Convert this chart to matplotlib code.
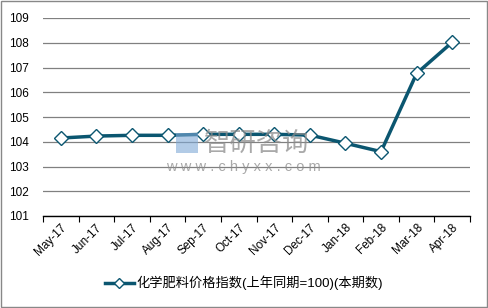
import matplotlib.pyplot as plt
from matplotlib.patches import Rectangle

plt.rcParams['font.family'] = ['Liberation Sans', 'Noto Sans CJK SC', 'DejaVu Sans']

months = ['May-17', 'Jun-17', 'Jul-17', 'Aug-17', 'Sep-17', 'Oct-17',
          'Nov-17', 'Dec-17', 'Jan-18', 'Feb-18', 'Mar-18', 'Apr-18']
index_values = [104.15, 104.23, 104.26, 104.26, 104.3, 104.3,
                104.3, 104.27, 103.94, 103.6, 106.76, 108.02]
series_name = '化学肥料价格指数(上年同期=100)(本期数)'
y_ticks = [101, 102, 103, 104, 105, 106, 107, 108, 109]

fig = plt.figure(figsize=(4.88, 3.08), dpi=100)
ax = fig.add_axes([43 / 488, 1 - 216 / 308, 427 / 488, 198 / 308])

x = list(range(len(months)))
ax.plot(x, index_values, color='#0b5670', linewidth=2.5, marker='D',
        markersize=7, markerfacecolor='white', markeredgecolor='#0b5670',
        markeredgewidth=1, label=series_name, zorder=3)

ax.set_xlim(-0.5, len(months) - 0.5)
ax.set_ylim(101, 109)
ax.set_yticks(y_ticks)
ax.set_xticks([i - 0.5 for i in range(len(months) + 1)], minor=False)
ax.set_xticklabels([])
ax.set_xticks(x, minor=True)
ax.set_xticklabels(months, minor=True, rotation=45, ha='right',
                   rotation_mode='anchor', fontsize=8.5)
ax.tick_params(axis='x', which='major', length=4, direction='out', color='#000000')
ax.tick_params(axis='x', which='minor', length=0, pad=4)
ax.tick_params(axis='y', length=0, labelsize=8.5, pad=10)

ax.grid(axis='y', color='#808080', linewidth=0.9)
ax.set_axisbelow(True)
for s in ['left', 'right', 'top']:
    ax.spines[s].set_visible(False)
ax.spines['bottom'].set_color('#000000')
ax.spines['bottom'].set_linewidth(1)

# watermark
fig.text(257 / 488, 1 - 143 / 308, '智研咨询', fontsize=19, color='#8c8c8c', alpha=0.75,
         family=['Noto Sans CJK SC'], ha='center', va='center', zorder=5)
fig.text(243 / 488, 1 - 167 / 308, 'w w w . c h y x x . c o m', fontsize=10.5,
         color='#8c8c8c', alpha=0.75, ha='center', va='center', zorder=5)
fig.add_artist(Rectangle((176 / 488, 1 - 153 / 308), 22 / 488, 20 / 308,
                         transform=fig.transFigure, facecolor='#7fa9d6',
                         edgecolor='none', alpha=0.6, zorder=5))

fig.legend(loc='center', bbox_to_anchor=(0.5, 1 - 283 / 308), frameon=False,
           fontsize=9.5, handlelength=2.2, borderpad=0, handletextpad=0.2,
           markerscale=0.75)

fig.add_artist(Rectangle((0.003, 0.004), 0.994, 0.992, transform=fig.transFigure,
                         fill=False, edgecolor='#888888', linewidth=1))

fig.savefig('out.png', dpi=100)
